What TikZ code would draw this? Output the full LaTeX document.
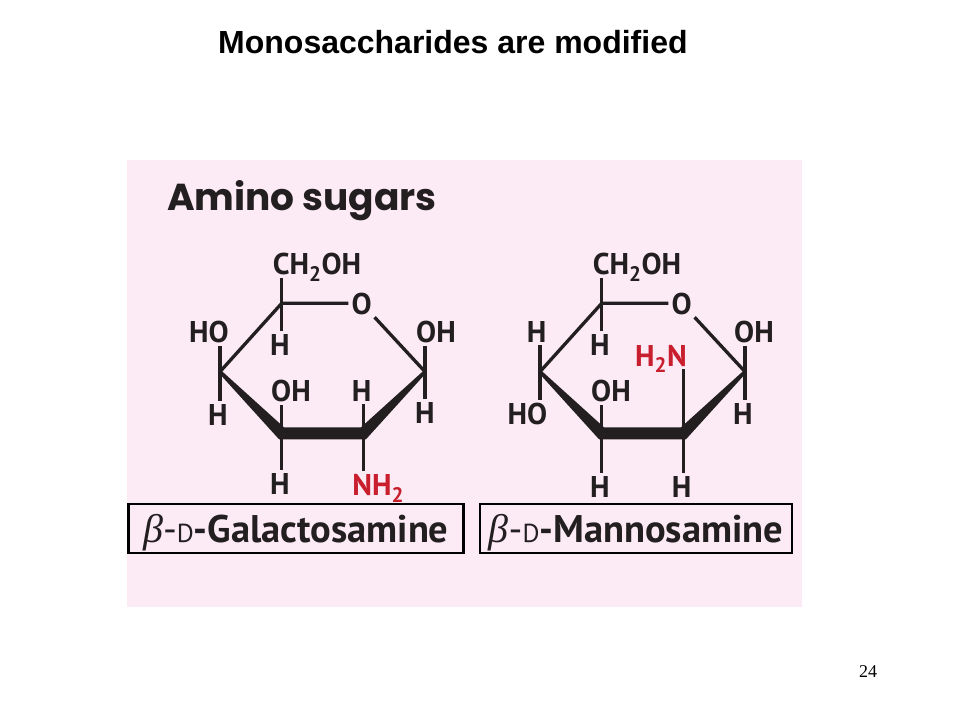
\documentclass[tikz,border=0pt]{standalone}
\usepackage{fontspec}
\setmainfont{PT Sans}
\newfontfamily\arialfont{Liberation Sans}
\newfontfamily\timesfont{Liberation Serif}
\newfontfamily\headfont{Poppins}
\usetikzlibrary{calc}
\definecolor{ink}{RGB}{35,31,32}
\definecolor{aminored}{RGB}{200,30,45}
\definecolor{panelpink}{RGB}{252,234,245}
\newcommand{\sugarname}[1]{{\mdseries\timesfont\itshape\fontsize{40}{40}\selectfont β}{\mdseries-{\fontsize{26}{26}\selectfont D}}-#1}

\begin{document}
\begin{tikzpicture}
  [x=1pt,y=-1pt,every node/.style={inner sep=3pt,text depth=0pt,text=ink,font=\bfseries\fontsize{30}{30}\selectfont}]
  \tikzstyle{bond} = [draw=ink,line width=3.3pt,line join=round]
  \tikzstyle{amino} = [text=aminored]
  \tikzstyle{namebox} = [draw=black,line width=2.8pt,minimum height=49pt,inner sep=0pt,font=\bfseries\fontsize{38.5}{38.5}\selectfont]

  \useasboundingbox[fill=white] (0,0) rectangle (960,720);
  \fill[panelpink] (127,160) rectangle (802,607);

  \node[inner sep=0pt,text=black,anchor=base west,font=\arialfont\bfseries\fontsize{32}{32}\selectfont] (title) at (218,53) {Monosaccharides are modified};
  \node[inner sep=0pt,anchor=base west,font=\headfont\bfseries\fontsize{37.5}{37.5}\selectfont] (head) at (167,210) {Amino sugars};
  \node[text=black,font=\timesfont\fontsize{18}{18}\selectfont] (page) at (868,672) {24};

  % galactosamine ring
  \coordinate (g-c1) at (425,371.7);
  \coordinate (g-c2) at (363.3,433.3);
  \coordinate (g-c3) at (281.7,433.3);
  \coordinate (g-c4) at (220,371.7);
  \coordinate (g-c5) at (281.7,303.3);
  \node (g-o) at (361.7,303.3) {O};
  \node (g-up5) at (317,264) {CH\textsubscript{2}OH};
  \node (g-dn5) at (280,345) {H};
  \node (g-up4) at (209,331.7) {HO};
  \node (g-dn4) at (218,415) {H};
  \node (g-up3) at (291,390.7) {OH};
  \node (g-dn3) at (280,484) {H};
  \node (g-up2) at (361.7,390.7) {H};
  \node[amino] (g-dn2) at (378.3,485) {NH\textsubscript{2}};
  \node (g-up1) at (436,331.7) {OH};
  \node (g-dn1) at (425,413) {H};

  % mannosamine ring
  \coordinate (m-c1) at (745,371.7);
  \coordinate (m-c2) at (683.3,433.3);
  \coordinate (m-c3) at (601.7,433.3);
  \coordinate (m-c4) at (540,371.7);
  \coordinate (m-c5) at (601.7,303.3);
  \node (m-o) at (681.7,303.3) {O};
  \node (m-up5) at (637,264) {CH\textsubscript{2}OH};
  \node (m-dn5) at (600,345) {H};
  \node (m-up4) at (536.7,331.7) {H};
  \node (m-dn4) at (527.5,414) {HO};
  \node (m-up3) at (611,390.7) {OH};
  \node (m-dn3) at (600,487) {H};
  \node[amino] (m-up2) at (661,355.7) {H\textsubscript{2}N};
  \node (m-dn2) at (681.7,487) {H};
  \node (m-up1) at (754,331.7) {OH};
  \node (m-dn1) at (743,414) {H};

  \foreach \r in {g,m} {
    \draw[bond] (\r-c4) -- (\r-c5) -- (\r-o) -- (\r-c1);
    \fill[ink] ($(\r-c4)+(1.2,-1.2)$) -- ($(\r-c3)+(2.3,-6)$) -- ($(\r-c2)+(-2.3,-6)$)
      -- ($(\r-c1)+(-1.2,-1.2)$) -- ($(\r-c1)+(1.2,1.2)$) -- ($(\r-c2)+(2.65,6)$)
      -- ($(\r-c3)+(-2.65,6)$) -- ($(\r-c4)+(-1.2,1.2)$) -- cycle;
    \foreach \k in {1,...,5} {
      \draw[bond] (\r-c\k) -- (\r-c\k |- \r-up\k.south);
      \draw[bond] (\r-c\k) -- (\r-c\k |- \r-dn\k.north);
    }
  }

  \node[namebox,minimum width=335pt] (g-name) at (295.8,528.5) {\sugarname{Galactosamine}};
  \node[namebox,minimum width=312pt] (m-name) at (636,528.5) {\sugarname{Mannosamine}};

\end{tikzpicture}
\end{document}
